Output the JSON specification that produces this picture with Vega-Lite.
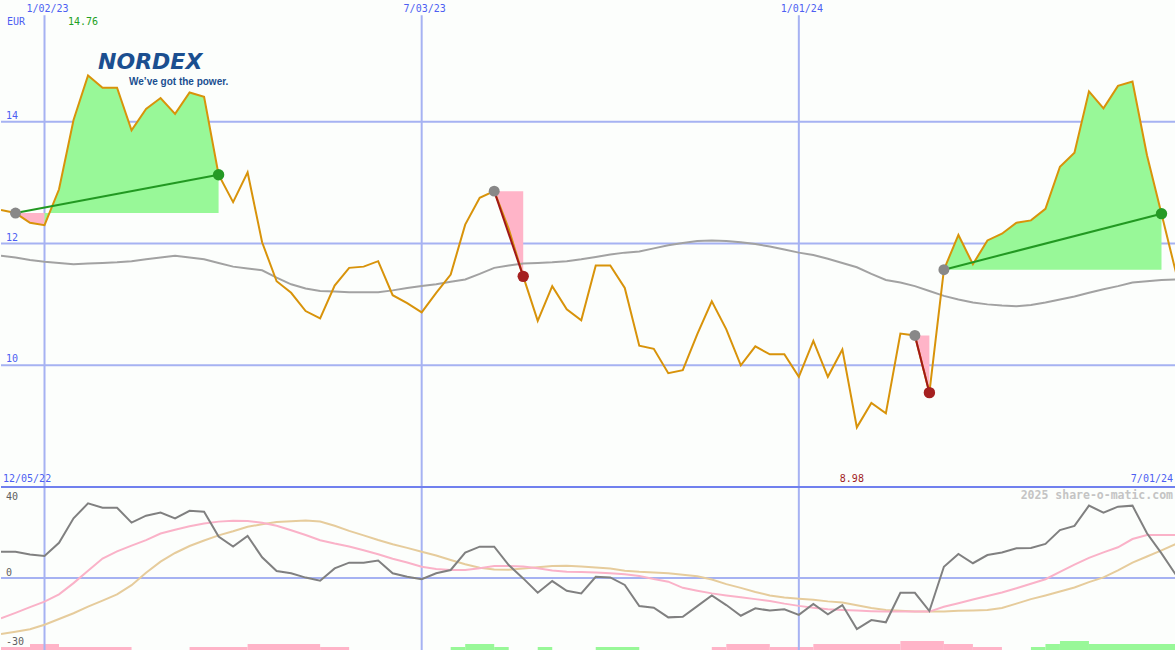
{
"$schema": "https://vega.github.io/schema/vega-lite/v6.json",
"background": "#fcfefc",
"padding": 0,
"spacing": 0,
"bounds": "flush",
"config": {"view": {"stroke": null}},
"datasets": {
"w": [
{"d":"2022-12-12","p":12.55,"ma":11.80,"k":12.8,"pk":-19.7,"tn":-27.3},
{"d":"2022-12-19","p":12.50,"ma":11.77,"k":12.8,"pk":-17.0,"tn":-26.2},
{"d":"2022-12-26","p":12.34,"ma":11.73,"k":11.5,"pk":-14.2,"tn":-25.0},
{"d":"2023-01-02","p":12.30,"ma":11.70,"k":10.7,"pk":-11.5,"tn":-22.8},
{"d":"2023-01-09","p":12.89,"ma":11.68,"k":17.2,"pk":-8.0,"tn":-20.0},
{"d":"2023-01-16","p":14.03,"ma":11.66,"k":29.1,"pk":-2.5,"tn":-17.2},
{"d":"2023-01-23","p":14.76,"ma":11.67,"k":36.4,"pk":3.5,"tn":-14.0},
{"d":"2023-01-30","p":14.56,"ma":11.68,"k":34.3,"pk":9.5,"tn":-11.0},
{"d":"2023-02-06","p":14.56,"ma":11.69,"k":34.3,"pk":13.0,"tn":-8.0},
{"d":"2023-02-13","p":13.86,"ma":11.71,"k":27.0,"pk":15.8,"tn":-3.5},
{"d":"2023-02-20","p":14.21,"ma":11.74,"k":30.4,"pk":18.5,"tn":2.6},
{"d":"2023-02-27","p":14.39,"ma":11.77,"k":31.9,"pk":21.7,"tn":8.0},
{"d":"2023-03-06","p":14.13,"ma":11.80,"k":29.1,"pk":23.5,"tn":12.2},
{"d":"2023-03-13","p":14.48,"ma":11.77,"k":32.8,"pk":25.2,"tn":15.6},
{"d":"2023-03-20","p":14.41,"ma":11.74,"k":32.3,"pk":26.6,"tn":18.3},
{"d":"2023-03-27","p":13.13,"ma":11.68,"k":20.2,"pk":27.5,"tn":20.8},
{"d":"2023-04-03","p":12.68,"ma":11.62,"k":15.3,"pk":27.9,"tn":22.8},
{"d":"2023-04-10","p":13.17,"ma":11.59,"k":20.5,"pk":27.8,"tn":25.0},
{"d":"2023-04-17","p":12.02,"ma":11.56,"k":10.1,"pk":27.0,"tn":26.2},
{"d":"2023-04-24","p":11.38,"ma":11.44,"k":3.4,"pk":25.5,"tn":27.3},
{"d":"2023-05-01","p":11.19,"ma":11.33,"k":2.3,"pk":23.3,"tn":27.7},
{"d":"2023-05-08","p":10.89,"ma":11.26,"k":0.2,"pk":21.0,"tn":28.0},
{"d":"2023-05-15","p":10.77,"ma":11.22,"k":-1.3,"pk":18.4,"tn":27.6},
{"d":"2023-05-22","p":11.31,"ma":11.21,"k":4.7,"pk":16.8,"tn":25.5},
{"d":"2023-05-29","p":11.60,"ma":11.20,"k":7.5,"pk":15.4,"tn":23.0},
{"d":"2023-06-05","p":11.62,"ma":11.20,"k":7.5,"pk":13.5,"tn":20.8},
{"d":"2023-06-12","p":11.71,"ma":11.20,"k":8.5,"pk":11.6,"tn":18.5},
{"d":"2023-06-19","p":11.15,"ma":11.23,"k":2.3,"pk":9.4,"tn":16.5},
{"d":"2023-06-26","p":11.02,"ma":11.27,"k":0.6,"pk":7.6,"tn":14.7},
{"d":"2023-07-03","p":10.87,"ma":11.30,"k":-0.6,"pk":5.5,"tn":12.8},
{"d":"2023-07-10","p":11.19,"ma":11.33,"k":2.3,"pk":4.4,"tn":11.0},
{"d":"2023-07-17","p":11.49,"ma":11.37,"k":3.9,"pk":3.9,"tn":8.8},
{"d":"2023-07-24","p":12.31,"ma":11.41,"k":12.4,"pk":3.9,"tn":6.7},
{"d":"2023-07-31","p":12.75,"ma":11.50,"k":15.3,"pk":4.8,"tn":5.0},
{"d":"2023-08-07","p":12.86,"ma":11.60,"k":15.3,"pk":5.8,"tn":4.1},
{"d":"2023-08-14","p":12.24,"ma":11.64,"k":6.3,"pk":5.9,"tn":4.0},
{"d":"2023-08-21","p":11.46,"ma":11.67,"k":-0.2,"pk":5.6,"tn":4.6},
{"d":"2023-08-28","p":10.73,"ma":11.68,"k":-7.2,"pk":4.8,"tn":5.3},
{"d":"2023-09-04","p":11.30,"ma":11.69,"k":-1.5,"pk":3.7,"tn":5.8},
{"d":"2023-09-11","p":10.92,"ma":11.71,"k":-6.2,"pk":3.1,"tn":6.0},
{"d":"2023-09-18","p":10.74,"ma":11.74,"k":-7.5,"pk":2.9,"tn":5.6},
{"d":"2023-09-25","p":11.64,"ma":11.78,"k":0.6,"pk":2.7,"tn":5.1},
{"d":"2023-10-02","p":11.64,"ma":11.82,"k":0.3,"pk":2.3,"tn":4.6},
{"d":"2023-10-09","p":11.27,"ma":11.85,"k":-3.4,"pk":1.8,"tn":3.5},
{"d":"2023-10-16","p":10.32,"ma":11.87,"k":-13.7,"pk":1.0,"tn":3.0},
{"d":"2023-10-23","p":10.27,"ma":11.92,"k":-14.5,"pk":-0.5,"tn":2.7},
{"d":"2023-10-30","p":9.87,"ma":11.97,"k":-19.2,"pk":-1.8,"tn":2.3},
{"d":"2023-11-06","p":9.92,"ma":12.01,"k":-18.9,"pk":-4.8,"tn":1.6},
{"d":"2023-11-13","p":10.51,"ma":12.04,"k":-13.7,"pk":-6.2,"tn":0.9},
{"d":"2023-11-20","p":11.05,"ma":12.05,"k":-8.5,"pk":-7.5,"tn":-0.7},
{"d":"2023-11-27","p":10.59,"ma":12.04,"k":-13.2,"pk":-8.5,"tn":-3.0},
{"d":"2023-12-04","p":10.00,"ma":12.02,"k":-18.4,"pk":-9.4,"tn":-4.8},
{"d":"2023-12-11","p":10.31,"ma":11.99,"k":-14.8,"pk":-10.3,"tn":-6.8},
{"d":"2023-12-18","p":10.18,"ma":11.95,"k":-15.9,"pk":-11.2,"tn":-8.5},
{"d":"2023-12-25","p":10.18,"ma":11.90,"k":-15.3,"pk":-12.5,"tn":-9.5},
{"d":"2024-01-01","p":9.81,"ma":11.85,"k":-18.0,"pk":-13.6,"tn":-10.1},
{"d":"2024-01-08","p":10.40,"ma":11.81,"k":-12.7,"pk":-14.5,"tn":-10.6},
{"d":"2024-01-15","p":9.81,"ma":11.75,"k":-17.7,"pk":-15.2,"tn":-11.4},
{"d":"2024-01-22","p":10.26,"ma":11.68,"k":-13.2,"pk":-15.6,"tn":-12.0},
{"d":"2024-01-29","p":8.98,"ma":11.61,"k":-24.9,"pk":-15.9,"tn":-13.3},
{"d":"2024-02-05","p":9.38,"ma":11.50,"k":-20.5,"pk":-16.2,"tn":-14.6},
{"d":"2024-02-12","p":9.21,"ma":11.40,"k":-21.6,"pk":-16.4,"tn":-15.6},
{"d":"2024-02-19","p":10.52,"ma":11.36,"k":-7.2,"pk":-16.4,"tn":-16.0},
{"d":"2024-02-26","p":10.49,"ma":11.30,"k":-7.2,"pk":-16.4,"tn":-16.3},
{"d":"2024-03-04","p":9.55,"ma":11.22,"k":-16.1,"pk":-16.4,"tn":-16.4},
{"d":"2024-03-11","p":11.57,"ma":11.14,"k":5.5,"pk":-14.0,"tn":-16.3},
{"d":"2024-03-18","p":12.14,"ma":11.08,"k":11.7,"pk":-12.3,"tn":-16.0},
{"d":"2024-03-25","p":11.66,"ma":11.03,"k":7.2,"pk":-10.5,"tn":-15.8},
{"d":"2024-04-01","p":12.05,"ma":11.00,"k":11.2,"pk":-8.8,"tn":-15.6},
{"d":"2024-04-08","p":12.16,"ma":10.98,"k":12.4,"pk":-7.1,"tn":-14.6},
{"d":"2024-04-15","p":12.34,"ma":10.97,"k":14.5,"pk":-5.0,"tn":-12.5},
{"d":"2024-04-22","p":12.38,"ma":10.99,"k":14.6,"pk":-2.8,"tn":-10.3},
{"d":"2024-04-29","p":12.57,"ma":11.03,"k":16.6,"pk":-0.6,"tn":-8.5},
{"d":"2024-05-06","p":13.26,"ma":11.08,"k":23.4,"pk":3.0,"tn":-6.6},
{"d":"2024-05-13","p":13.49,"ma":11.13,"k":25.4,"pk":6.5,"tn":-4.6},
{"d":"2024-05-20","p":14.50,"ma":11.19,"k":35.3,"pk":9.8,"tn":-2.0},
{"d":"2024-05-27","p":14.22,"ma":11.25,"k":31.9,"pk":12.5,"tn":0.3},
{"d":"2024-06-03","p":14.59,"ma":11.30,"k":34.8,"pk":15.0,"tn":3.7},
{"d":"2024-06-10","p":14.66,"ma":11.36,"k":35.3,"pk":19.0,"tn":7.5},
{"d":"2024-06-17","p":13.45,"ma":11.38,"k":21.8,"pk":21.0,"tn":10.5},
{"d":"2024-06-24","p":12.49,"ma":11.40,"k":12.0,"pk":21.0,"tn":13.5},
{"d":"2024-07-01","p":11.52,"ma":11.41,"k":1.5,"pk":21.0,"tn":16.6}
],
"fills": [
{"g":"T1","c":"gain","d":"2022-12-19","p":12.50,"b":12.50},
{"g":"T1","c":"gain","d":"2022-12-26","p":12.34,"b":12.50},
{"g":"T1","c":"gain","d":"2023-01-02","p":12.30,"b":12.50},
{"g":"T1","c":"gain","d":"2023-01-09","p":12.89,"b":12.50},
{"g":"T1","c":"gain","d":"2023-01-16","p":14.03,"b":12.50},
{"g":"T1","c":"gain","d":"2023-01-23","p":14.76,"b":12.50},
{"g":"T1","c":"gain","d":"2023-01-30","p":14.56,"b":12.50},
{"g":"T1","c":"gain","d":"2023-02-06","p":14.56,"b":12.50},
{"g":"T1","c":"gain","d":"2023-02-13","p":13.86,"b":12.50},
{"g":"T1","c":"gain","d":"2023-02-20","p":14.21,"b":12.50},
{"g":"T1","c":"gain","d":"2023-02-27","p":14.39,"b":12.50},
{"g":"T1","c":"gain","d":"2023-03-06","p":14.13,"b":12.50},
{"g":"T1","c":"gain","d":"2023-03-13","p":14.48,"b":12.50},
{"g":"T1","c":"gain","d":"2023-03-20","p":14.41,"b":12.50},
{"g":"T1","c":"gain","d":"2023-03-27","p":13.13,"b":12.50},
{"g":"T1L","c":"loss","d":"2022-12-19","p":12.50,"b":12.50},
{"g":"T1L","c":"loss","d":"2022-12-26","p":12.34,"b":12.50},
{"g":"T1L","c":"loss","d":"2023-01-02","p":12.30,"b":12.50},
{"g":"T2","c":"loss","d":"2023-08-07","p":12.86,"b":12.86},
{"g":"T2","c":"loss","d":"2023-08-14","p":12.24,"b":12.86},
{"g":"T2","c":"loss","d":"2023-08-21","p":11.46,"b":12.86},
{"g":"T3","c":"loss","d":"2024-02-26","p":10.49,"b":10.49},
{"g":"T3","c":"loss","d":"2024-03-04","p":9.55,"b":10.49},
{"g":"T4","c":"gain","d":"2024-03-11","p":11.57,"b":11.57},
{"g":"T4","c":"gain","d":"2024-03-18","p":12.14,"b":11.57},
{"g":"T4","c":"gain","d":"2024-03-25","p":11.66,"b":11.57},
{"g":"T4","c":"gain","d":"2024-04-01","p":12.05,"b":11.57},
{"g":"T4","c":"gain","d":"2024-04-08","p":12.16,"b":11.57},
{"g":"T4","c":"gain","d":"2024-04-15","p":12.34,"b":11.57},
{"g":"T4","c":"gain","d":"2024-04-22","p":12.38,"b":11.57},
{"g":"T4","c":"gain","d":"2024-04-29","p":12.57,"b":11.57},
{"g":"T4","c":"gain","d":"2024-05-06","p":13.26,"b":11.57},
{"g":"T4","c":"gain","d":"2024-05-13","p":13.49,"b":11.57},
{"g":"T4","c":"gain","d":"2024-05-20","p":14.50,"b":11.57},
{"g":"T4","c":"gain","d":"2024-05-27","p":14.22,"b":11.57},
{"g":"T4","c":"gain","d":"2024-06-03","p":14.59,"b":11.57},
{"g":"T4","c":"gain","d":"2024-06-10","p":14.66,"b":11.57},
{"g":"T4","c":"gain","d":"2024-06-17","p":13.45,"b":11.57},
{"g":"T4","c":"gain","d":"2024-06-24","p":12.49,"b":11.57}
],
"trades": [
{"g":"T1","c":"gain","d":"2022-12-19","p":12.50},
{"g":"T1","c":"gain","d":"2023-03-27","p":13.13},
{"g":"T2","c":"loss","d":"2023-08-07","p":12.86},
{"g":"T2","c":"loss","d":"2023-08-21","p":11.46},
{"g":"T3","c":"loss","d":"2024-02-26","p":10.49},
{"g":"T3","c":"loss","d":"2024-03-04","p":9.55},
{"g":"T4","c":"gain","d":"2024-03-11","p":11.57},
{"g":"T4","c":"gain","d":"2024-06-24","p":12.49}
],
"dots": [
{"d":"2022-12-19","p":12.50,"r":"entry"},
{"d":"2023-03-27","p":13.13,"r":"gain"},
{"d":"2023-08-07","p":12.86,"r":"entry"},
{"d":"2023-08-21","p":11.46,"r":"loss"},
{"d":"2024-02-26","p":10.49,"r":"entry"},
{"d":"2024-03-04","p":9.55,"r":"loss"},
{"d":"2024-03-11","p":11.57,"r":"entry"},
{"d":"2024-06-24","p":12.49,"r":"gain"}
],
"bars": [
{"s":"2022-12-12","e":"2022-12-26","lvl":1,"c":"loss"},
{"s":"2022-12-26","e":"2023-01-09","lvl":2,"c":"loss"},
{"s":"2023-01-09","e":"2023-02-13","lvl":1,"c":"loss"},
{"s":"2023-03-13","e":"2023-04-10","lvl":1,"c":"loss"},
{"s":"2023-04-10","e":"2023-05-15","lvl":2,"c":"loss"},
{"s":"2023-05-15","e":"2023-05-29","lvl":1,"c":"loss"},
{"s":"2023-07-17","e":"2023-07-24","lvl":1,"c":"gain"},
{"s":"2023-07-24","e":"2023-08-07","lvl":2,"c":"gain"},
{"s":"2023-08-07","e":"2023-08-14","lvl":1,"c":"gain"},
{"s":"2023-08-28","e":"2023-09-04","lvl":1,"c":"gain"},
{"s":"2023-09-25","e":"2023-10-16","lvl":1,"c":"gain"},
{"s":"2023-11-20","e":"2023-11-27","lvl":1,"c":"loss"},
{"s":"2023-11-27","e":"2023-12-18","lvl":2,"c":"loss"},
{"s":"2023-12-18","e":"2024-01-08","lvl":1,"c":"loss"},
{"s":"2024-01-08","e":"2024-02-19","lvl":2,"c":"loss"},
{"s":"2024-02-19","e":"2024-03-11","lvl":3,"c":"loss"},
{"s":"2024-03-11","e":"2024-03-25","lvl":2,"c":"loss"},
{"s":"2024-03-25","e":"2024-04-08","lvl":1,"c":"loss"},
{"s":"2024-04-22","e":"2024-04-29","lvl":1,"c":"gain"},
{"s":"2024-04-29","e":"2024-05-06","lvl":2,"c":"gain"},
{"s":"2024-05-06","e":"2024-05-20","lvl":3,"c":"gain"},
{"s":"2024-05-20","e":"2024-07-01","lvl":2,"c":"gain"}
]
},
"vconcat": [
{
"width": 1175,
"height": 487,
"layer": [
{"data": {"values": [{"v": 14}, {"v": 12}, {"v": 10}]},
 "mark": {"type": "rule", "color": "#a6b2f2", "strokeWidth": 2},
 "encoding": {"y": {"field": "v", "type": "quantitative", "scale": {"domain": [8, 16], "nice": false, "zero": false}, "axis": null}}},
{"data": {"values": [{"d": "2023-01-02"}, {"d": "2023-07-03"}, {"d": "2024-01-01"}]},
 "mark": {"type": "rule", "color": "#a6b2f2", "strokeWidth": 2},
 "encoding": {"x": {"field": "d", "type": "temporal", "scale": {"type": "utc", "domain": [{"year": 2022, "month": 12, "date": 12, "utc": true}, {"year": 2024, "month": 7, "date": 1, "utc": true}]}, "axis": null},
   "y": {"datum": 15.75}, "y2": {"datum": 8}}},
{"data": {"values": [{"v": 8}]},
 "mark": {"type": "rule", "color": "#7080ee", "strokeWidth": 2, "clip": true},
 "encoding": {"y": {"field": "v", "type": "quantitative"}}},
{"data": {"name": "fills"}, "transform": [{"filter": "datum.c === 'gain'"}],
 "mark": {"type": "area", "color": "#98f898", "opacity": 1, "clip": true},
 "encoding": {"x": {"field": "d", "type": "temporal"}, "y": {"field": "p", "type": "quantitative"}, "y2": {"field": "b"}, "detail": {"field": "g"}}},
{"data": {"name": "fills"}, "transform": [{"filter": "datum.c === 'loss'"}],
 "mark": {"type": "area", "color": "#ffb4c8", "opacity": 1, "clip": true},
 "encoding": {"x": {"field": "d", "type": "temporal"}, "y": {"field": "p", "type": "quantitative"}, "y2": {"field": "b"}, "detail": {"field": "g"}}},
{"data": {"name": "w"},
 "mark": {"type": "line", "color": "#a2a2a2", "strokeWidth": 2, "clip": true},
 "encoding": {"x": {"field": "d", "type": "temporal"}, "y": {"field": "ma", "type": "quantitative"}}},
{"data": {"name": "w"},
 "mark": {"type": "line", "color": "#d8930a", "strokeWidth": 2, "clip": true},
 "encoding": {"x": {"field": "d", "type": "temporal"}, "y": {"field": "p", "type": "quantitative"}}},
{"data": {"name": "trades"}, "transform": [{"filter": "datum.c === 'gain'"}],
 "mark": {"type": "line", "color": "#229922", "strokeWidth": 2, "clip": true},
 "encoding": {"x": {"field": "d", "type": "temporal"}, "y": {"field": "p", "type": "quantitative"}, "detail": {"field": "g"}}},
{"data": {"name": "trades"}, "transform": [{"filter": "datum.c === 'loss'"}],
 "mark": {"type": "line", "color": "#a01818", "strokeWidth": 2, "clip": true},
 "encoding": {"x": {"field": "d", "type": "temporal"}, "y": {"field": "p", "type": "quantitative"}, "detail": {"field": "g"}}},
{"data": {"name": "dots"}, "transform": [{"filter": "datum.r === 'entry'"}],
 "mark": {"type": "circle", "color": "#888888", "size": 120, "opacity": 1},
 "encoding": {"x": {"field": "d", "type": "temporal"}, "y": {"field": "p", "type": "quantitative"}}},
{"data": {"name": "dots"}, "transform": [{"filter": "datum.r === 'gain'"}],
 "mark": {"type": "circle", "color": "#259a25", "size": 130, "opacity": 1},
 "encoding": {"x": {"field": "d", "type": "temporal"}, "y": {"field": "p", "type": "quantitative"}}},
{"data": {"name": "dots"}, "transform": [{"filter": "datum.r === 'loss'"}],
 "mark": {"type": "circle", "color": "#a52020", "size": 130, "opacity": 1},
 "encoding": {"x": {"field": "d", "type": "temporal"}, "y": {"field": "p", "type": "quantitative"}}},
{"data": {"values": [{"d": "2023-01-02", "v": 15.852, "t": "1/02/23"}, {"d": "2023-07-03", "v": 15.852, "t": "7/03/23"}, {"d": "2024-01-01", "v": 15.852, "t": "1/01/24"}]},
 "mark": {"type": "text", "align": "center", "baseline": "middle", "dx": 3, "font": "DejaVu Sans Mono", "fontSize": 10, "color": "#4d5ef2"},
 "encoding": {"x": {"field": "d", "type": "temporal"}, "y": {"field": "v", "type": "quantitative"}, "text": {"field": "t"}}},
{"data": {"values": [{"d": "2022-12-12", "v": 15.644, "t": "EUR"}]},
 "mark": {"type": "text", "align": "left", "baseline": "middle", "dx": 6, "font": "DejaVu Sans Mono", "fontSize": 10, "color": "#4d5ef2"},
 "encoding": {"x": {"field": "d", "type": "temporal"}, "y": {"field": "v", "type": "quantitative"}, "text": {"field": "t"}}},
{"data": {"values": [{"d": "2023-01-09", "v": 15.644, "t": "14.76"}]},
 "mark": {"type": "text", "align": "left", "baseline": "middle", "dx": 9, "font": "DejaVu Sans Mono", "fontSize": 10, "color": "#22a022"},
 "encoding": {"x": {"field": "d", "type": "temporal"}, "y": {"field": "v", "type": "quantitative"}, "text": {"field": "t"}}},
{"data": {"values": [{"d": "2022-12-12", "v": 14, "t": "14"}, {"d": "2022-12-12", "v": 12, "t": "12"}, {"d": "2022-12-12", "v": 10, "t": "10"}]},
 "mark": {"type": "text", "align": "left", "baseline": "middle", "dx": 5, "dy": -6, "font": "DejaVu Sans Mono", "fontSize": 10, "color": "#4d5ef2"},
 "encoding": {"x": {"field": "d", "type": "temporal"}, "y": {"field": "v", "type": "quantitative"}, "text": {"field": "t"}}},
{"data": {"values": [{"d": "2022-12-12", "v": 8, "t": "12/05/22"}]},
 "mark": {"type": "text", "align": "left", "baseline": "middle", "dx": 2, "dy": -8, "font": "DejaVu Sans Mono", "fontSize": 10, "color": "#4d5ef2"},
 "encoding": {"x": {"field": "d", "type": "temporal"}, "y": {"field": "v", "type": "quantitative"}, "text": {"field": "t"}}},
{"data": {"values": [{"d": "2024-01-29", "v": 8, "t": "8.98"}]},
 "mark": {"type": "text", "align": "center", "baseline": "middle", "dx": -5, "dy": -8, "font": "DejaVu Sans Mono", "fontSize": 10, "color": "#a01c1c"},
 "encoding": {"x": {"field": "d", "type": "temporal"}, "y": {"field": "v", "type": "quantitative"}, "text": {"field": "t"}}},
{"data": {"values": [{"d": "2024-07-01", "v": 8, "t": "7/01/24"}]},
 "mark": {"type": "text", "align": "right", "baseline": "middle", "dx": -3, "dy": -8, "font": "DejaVu Sans Mono", "fontSize": 10, "color": "#4d5ef2"},
 "encoding": {"x": {"field": "d", "type": "temporal"}, "y": {"field": "v", "type": "quantitative"}, "text": {"field": "t"}}},
{"data": {"values": [{"d": "2023-01-30", "v": 14.86, "t": "NORDEX"}]},
 "mark": {"type": "text", "align": "left", "baseline": "alphabetic", "dx": -4.5, "font": "DejaVu Sans", "fontSize": 22, "fontWeight": "bold", "fontStyle": "italic", "color": "#1b4f90"},
 "encoding": {"x": {"field": "d", "type": "temporal"}, "y": {"field": "v", "type": "quantitative"}, "text": {"field": "t"}}},
{"data": {"values": [{"d": "2023-02-13", "v": 14.605, "t": "We’ve got the power."}]},
 "mark": {"type": "text", "align": "left", "baseline": "alphabetic", "dx": -2.5, "font": "Liberation Sans", "fontSize": 10, "fontWeight": "bold", "color": "#1b4f90"},
 "encoding": {"x": {"field": "d", "type": "temporal"}, "y": {"field": "v", "type": "quantitative"}, "text": {"field": "t"}}}
]
},
{
"width": 1175,
"height": 163,
"layer": [
{"layer": [
{"data": {"name": "bars"}, "transform": [{"filter": "datum.c === 'loss'"}],
 "mark": {"type": "rect", "color": "#ffb4c8", "clip": true},
 "encoding": {"x": {"field": "s", "type": "temporal", "scale": {"type": "utc", "domain": [{"year": 2022, "month": 12, "date": 12, "utc": true}, {"year": 2024, "month": 7, "date": 1, "utc": true}]}, "axis": null},
   "x2": {"field": "e"},
   "y": {"field": "lvl", "type": "quantitative", "scale": {"domain": [0, 54.33], "nice": false, "zero": true}, "axis": null},
   "y2": {"datum": 0}}},
{"data": {"name": "bars"}, "transform": [{"filter": "datum.c === 'gain'"}],
 "mark": {"type": "rect", "color": "#98f898", "clip": true},
 "encoding": {"x": {"field": "s", "type": "temporal"}, "x2": {"field": "e"}, "y": {"field": "lvl", "type": "quantitative", "axis": null}, "y2": {"datum": 0}}}
]},
{"layer": [
{"data": {"values": [{"v": 0}]},
 "mark": {"type": "rule", "color": "#a6b2f2", "strokeWidth": 2},
 "encoding": {"y": {"field": "v", "type": "quantitative", "scale": {"domain": [-35.12, 44.39], "nice": false, "zero": false}, "axis": null}}},
{"data": {"values": [{"d": "2023-01-02"}, {"d": "2023-07-03"}, {"d": "2024-01-01"}]},
 "mark": {"type": "rule", "color": "#a6b2f2", "strokeWidth": 2},
 "encoding": {"x": {"field": "d", "type": "temporal"}}},
{"data": {"values": [{"v": 44.39}]},
 "mark": {"type": "rule", "color": "#7080ee", "strokeWidth": 2, "clip": true},
 "encoding": {"y": {"field": "v", "type": "quantitative"}}},
{"data": {"name": "w"},
 "mark": {"type": "line", "color": "#e6cc9c", "strokeWidth": 2, "clip": true},
 "encoding": {"x": {"field": "d", "type": "temporal"}, "y": {"field": "tn", "type": "quantitative"}}},
{"data": {"name": "w"},
 "mark": {"type": "line", "color": "#fab2c8", "strokeWidth": 2, "clip": true},
 "encoding": {"x": {"field": "d", "type": "temporal"}, "y": {"field": "pk", "type": "quantitative"}}},
{"data": {"name": "w"},
 "mark": {"type": "line", "color": "#808080", "strokeWidth": 2, "clip": true},
 "encoding": {"x": {"field": "d", "type": "temporal"}, "y": {"field": "k", "type": "quantitative"}}},
{"data": {"values": [{"d": "2022-12-12", "v": 40, "t": "40"}]},
 "mark": {"type": "text", "align": "left", "baseline": "middle", "dx": 5, "dy": 1, "font": "DejaVu Sans Mono", "fontSize": 10, "color": "#606060"},
 "encoding": {"x": {"field": "d", "type": "temporal"}, "y": {"field": "v", "type": "quantitative"}, "text": {"field": "t"}}},
{"data": {"values": [{"d": "2022-12-12", "v": 0, "t": "0"}]},
 "mark": {"type": "text", "align": "left", "baseline": "middle", "dx": 5, "dy": -5, "font": "DejaVu Sans Mono", "fontSize": 10, "color": "#606060"},
 "encoding": {"x": {"field": "d", "type": "temporal"}, "y": {"field": "v", "type": "quantitative"}, "text": {"field": "t"}}},
{"data": {"values": [{"d": "2022-12-12", "v": -30, "t": "-30"}]},
 "mark": {"type": "text", "align": "left", "baseline": "middle", "dx": 5, "dy": 2.5, "font": "DejaVu Sans Mono", "fontSize": 10, "color": "#606060"},
 "encoding": {"x": {"field": "d", "type": "temporal"}, "y": {"field": "v", "type": "quantitative"}, "text": {"field": "t"}}},
{"data": {"values": [{"d": "2024-07-01", "v": 40, "t": "2025 share-o-matic.com"}]},
 "mark": {"type": "text", "align": "right", "baseline": "middle", "dx": -3, "dy": 0.5, "font": "DejaVu Sans Mono", "fontSize": 11.5, "fontWeight": "bold", "color": "#c4c4c4"},
 "encoding": {"x": {"field": "d", "type": "temporal"}, "y": {"field": "v", "type": "quantitative"}, "text": {"field": "t"}}}
]}
],
"resolve": {"scale": {"y": "independent"}}
}
]
}
